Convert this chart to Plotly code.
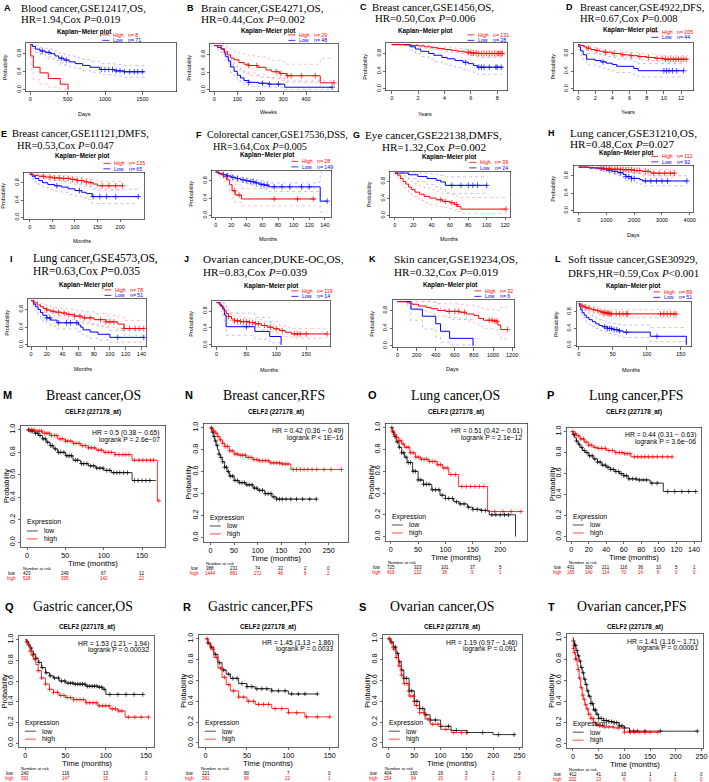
import plotly.graph_objects as go

W, H = 709, 782
SERIF = "Liberation Serif"
SANS = "Liberation Sans"
RED, BLUE, BLACK = "#FF0000", "#0000FF", "#000000"
PINK, LBLUE = "#FFA8A8", "#A8A8FF"

# ======================= DATA =======================
TOP_KEYS = list("ABCDEFGHIJKL")
TOP_TITLE_1 = ["Blood cancer,GSE12417,OS,", "Brain cancer,GSE4271,OS,", "Breast cancer,GSE1456,OS,",
               "Breast cancer,GSE4922,DFS,", "Breast cancer,GSE11121,DMFS,", "Colorectal cancer,GSE17536,DSS,",
               "Eye cancer,GSE22138,DMFS,", "Lung cancer,GSE31210,OS,", "Lung cancer,GSE4573,OS,",
               "Ovarian cancer,DUKE-OC,OS,", "Skin cancer,GSE19234,OS,", "Soft tissue cancer,GSE30929,"]
TOP_TITLE_2 = ["HR=1.94,Cox <i>P</i>=0.019", "HR=0.44,Cox <i>P</i>=0.002", "HR=0.50,Cox <i>P</i>=0.006",
               "HR=0.67,Cox <i>P</i>=0.008", "HR=0.53,Cox <i>P</i>=0.047", "HR=3.64,Cox <i>P</i>=0.005",
               "HR=1.32,Cox <i>P</i>=0.002", "HR=0.48,Cox <i>P</i>=0.027", "HR=0.63,Cox <i>P</i>=0.035",
               "HR=0.83,Cox <i>P</i>=0.039", "HR=0.32,Cox <i>P</i>=0.019", "DRFS,HR=0.59,Cox <i>P</i>&lt;0.001"]
TOP_UNITS = ["Days", "Weeks", "Years", "Years", "Months", "Months", "Months", "Days", "Months", "Months", "Days", "Months"]
N_HIGH = [8, 29, 131, 205, 135, 28, 39, 112, 78, 119, 32, 89]
N_LOW = [71, 48, 28, 44, 65, 149, 24, 92, 51, 14, 6, 51]
TOP_XTICKS = [[0, 500, 1000, 1500], [0, 100, 200, 300, 400], [0, 2, 4, 6, 8], [0, 2, 4, 6, 8, 10, 12],
              [0, 50, 100, 150, 200], [0, 20, 40, 60, 80, 100, 120, 140], [0, 20, 40, 60, 80, 100, 120],
              [0, 1000, 2000, 3000, 4000], [0, 20, 40, 60, 80, 100, 120, 140], [0, 50, 100, 150],
              [0, 200, 400, 600, 800, 1000, 1200], [0, 50, 100, 150]]
TOP_YTICKS = [0, 0.4, 0.8]

# --- A ---
A_hi_t = [0, 5, 40, 130, 240, 400, 505]
A_hi_s = [1, .75, .5, .375, .25, .125, 0]
A_hi_lo = [1, .45, .22, .13, .06, .01, 0]
A_hi_up = [1, 1, .92, .8, .68, .55, .55]
A_hi_c = []
A_lo_t = [0, 30, 70, 130, 200, 270, 330, 380, 450, 520, 600, 700, 800, 930, 1130, 1250, 1530]
A_lo_s = [1, .96, .9, .86, .83, .8, .75, .7, .66, .62, .58, .54, .5, .45, .42, .4, .4]
A_lo_lo = [1, .91, .83, .78, .74, .7, .65, .6, .55, .51, .47, .43, .39, .34, .31, .28, .28]
A_lo_up = [1, 1, .97, .94, .92, .9, .86, .82, .78, .75, .71, .67, .63, .58, .56, .54, .54]
A_lo_c = [160, 250, 420, 480, 950, 1000, 1050, 1100, 1150, 1200, 1260, 1330, 1390, 1440, 1500]
# --- B ---
B_hi_t = [0, 30, 43, 57, 71, 86, 107, 129, 150, 190, 225, 250, 285, 315, 462, 522]
B_hi_s = [1, .93, .86, .79, .72, .68, .62, .58, .55, .51, .45, .41, .37, .32, .16, .16]
B_hi_lo = [1, .84, .74, .65, .57, .52, .46, .41, .38, .34, .28, .25, .21, .17, .05, .05]
B_hi_up = [1, 1, .99, .96, .91, .87, .83, .8, .77, .74, .7, .67, .63, .58, .72, .72]
B_hi_c = [150, 185, 270, 290, 320, 335, 380, 440, 522]
B_lo_t = [0, 14, 29, 43, 50, 61, 71, 86, 100, 114, 129, 150, 193, 236, 307, 514]
B_lo_s = [1, .96, .92, .83, .75, .65, .52, .42, .33, .27, .21, .17, .15, .13, .06, .06]
B_lo_lo = [1, .9, .84, .73, .63, .52, .39, .29, .21, .16, .11, .08, .07, .05, .01, .01]
B_lo_up = [1, 1, 1, .94, .88, .8, .68, .59, .5, .43, .37, .32, .29, .27, .2, .2]
B_lo_c = [150, 210, 240, 280, 514]
# --- C ---
C_hi_t = [0, 1, 1.5, 2, 2.5, 3, 3.5, 4, 4.5, 5, 5.5, 6, 6.5, 8.4]
C_hi_s = [1, .99, .98, .97, .95, .93, .91, .89, .87, .85, .83, .81, .8, .8]
C_hi_lo = [1, .97, .95, .94, .91, .89, .86, .84, .82, .8, .77, .75, .74, .74]
C_hi_up = [1, 1, 1, 1, .99, .97, .95, .94, .92, .91, .89, .87, .86, .86]
C_hi_c = [5.8, 6.0, 6.2, 6.4, 6.6, 6.8, 7.0, 7.2, 7.4, 7.6, 7.8, 8.0, 8.1, 8.2, 8.3, 8.4]
C_lo_t = [0, 1.4, 1.8, 2.2, 2.8, 3.2, 3.8, 4.2, 4.8, 5.4, 5.8, 6.2, 6.5, 8.4]
C_lo_s = [1, .95, .9, .85, .8, .76, .71, .68, .64, .6, .57, .53, .49, .49]
C_lo_lo = [1, .87, .8, .73, .67, .62, .56, .53, .48, .44, .41, .37, .33, .33]
C_lo_up = [1, 1, 1, .98, .95, .92, .89, .86, .83, .8, .77, .74, .71, .71]
C_lo_c = [5.6, 6.6, 6.8, 7.0, 7.4, 7.9, 8.0, 8.3]
# --- D ---
D_hi_t = [0, 0.3, 0.7, 1, 1.5, 2, 2.5, 3, 4, 5, 6, 7, 8, 9, 10, 12.8]
D_hi_s = [1, .98, .95, .92, .89, .87, .85, .83, .8, .77, .75, .73, .71, .69, .67, .67]
D_hi_lo = [1, .96, .92, .88, .85, .82, .8, .78, .74, .71, .69, .66, .64, .62, .59, .59]
D_hi_up = [1, 1, .98, .96, .94, .92, .9, .88, .86, .83, .82, .8, .78, .77, .75, .75]
D_hi_c = [1.2, 2.2, 3.2, 4.2, 5.2, 6.2, 7.2, 8.2, 9.2, 9.8, 10.2, 10.5, 10.8, 11.1, 11.4, 11.7, 12.0, 12.3, 12.6]
D_lo_t = [0, 0.1, 0.3, 0.6, 1, 2, 2.7, 3.3, 4, 4.5, 6.5, 7, 12.3]
D_lo_s = [1, .95, .86, .77, .67, .64, .61, .58, .55, .51, .46, .41, .41]
D_lo_lo = [1, .88, .76, .65, .54, .5, .47, .44, .41, .37, .32, .27, .27]
D_lo_up = [1, 1, .96, .89, .8, .78, .76, .73, .71, .67, .62, .57, .57]
D_lo_c = [2.9, 10.0, 10.3, 10.6, 11.0, 11.5, 12.3]
# --- E ---
E_hi_t = [0, 8, 20, 35, 50, 70, 90, 105, 120, 130, 140, 150, 205]
E_hi_s = [1, .97, .95, .93, .91, .9, .88, .85, .82, .8, .77, .73, .73]
E_hi_lo = [1, .94, .91, .88, .86, .84, .82, .78, .75, .72, .68, .63, .63]
E_hi_up = [1, 1, .99, .98, .97, .96, .95, .93, .9, .88, .86, .83, .83]
E_hi_c = [30, 45, 55, 65, 75, 85, 95, 105, 115, 125, 135, 160, 175, 190, 205]
E_lo_t = [0, 5, 12, 20, 28, 40, 55, 70, 85, 100, 115, 125, 138, 240]
E_lo_s = [1, .95, .9, .85, .8, .76, .73, .7, .66, .62, .58, .55, .48, .48]
E_lo_lo = [1, .89, .82, .76, .7, .65, .61, .58, .53, .49, .44, .41, .32, .32]
E_lo_up = [1, 1, .97, .94, .9, .87, .85, .82, .79, .76, .72, .7, .65, .65]
E_lo_c = [60, 110, 140, 155, 170, 190, 240]
# --- F ---
F_hi_t = [0, 5, 10, 14, 18, 21, 25, 33, 128]
F_hi_s = [1, .96, .89, .82, .71, .57, .47, .38, .38]
F_hi_lo = [1, .89, .78, .69, .55, .4, .3, .22, .22]
F_hi_up = [1, 1, 1, .96, .89, .78, .7, .62, .62]
F_hi_c = [24, 30, 75, 105, 125]
F_lo_t = [0, 3, 8, 14, 20, 26, 32, 38, 44, 50, 56, 62, 68, 131, 134, 143]
F_lo_s = [1, .97, .94, .91, .88, .85, .82, .8, .78, .75, .72, .7, .66, .66, .33, .33]
F_lo_lo = [1, .94, .9, .86, .83, .79, .76, .73, .7, .67, .63, .6, .55, .55, .08, .08]
F_lo_up = [1, 1, .98, .96, .93, .91, .88, .86, .84, .82, .8, .78, .75, .77, 1, 1]
F_lo_c = [10, 15, 22, 28, 35, 40, 45, 48, 52, 58, 62, 66, 75, 85, 95, 110, 120, 143]
# --- G ---
G_hi_t = [0, 3, 6, 9, 12, 15, 18, 22, 27, 32, 38, 45, 52, 60, 65, 68, 72, 121]
G_hi_s = [1, .95, .87, .8, .74, .67, .61, .55, .5, .45, .41, .37, .33, .3, .26, .21, .15, .15]
G_hi_lo = [1, .88, .77, .68, .6, .53, .46, .4, .35, .3, .26, .22, .19, .16, .13, .09, .05, .05]
G_hi_up = [1, 1, .98, .94, .89, .84, .79, .74, .69, .65, .61, .57, .53, .5, .47, .44, .42, .42]
G_hi_c = [50, 55, 62, 67, 121]
G_lo_t = [0, 15, 25, 35, 45, 50, 55, 101]
G_lo_s = [1, .96, .92, .87, .83, .79, .71, .71]
G_lo_lo = [1, .87, .8, .73, .67, .62, .52, .52]
G_lo_up = [1, 1, 1, .98, .96, .94, .91, .91]
G_lo_c = [62, 72, 80, 85, 90, 100]
# --- H ---
H_hi_t = [0, 300, 600, 900, 1200, 1600, 2000, 2300, 2600, 3450]
H_hi_s = [1, .99, .98, .96, .95, .94, .92, .9, .86, .86]
H_hi_lo = [1, .97, .95, .92, .9, .88, .86, .83, .77, .77]
H_hi_up = [1, 1, 1, 1, 1, .99, .98, .97, .94, .94]
H_hi_c = [800, 1000, 1100, 1200, 1300, 1400, 1500, 1600, 1700, 1800, 1900, 2000, 2100, 2200, 2400, 2500,
          2700, 2900, 3100, 3300, 3450]
H_lo_t = [0, 400, 700, 1000, 1200, 1400, 1600, 1700, 1900, 2200, 2300, 3900]
H_lo_s = [1, .98, .96, .93, .9, .87, .83, .78, .74, .71, .68, .68]
H_lo_lo = [1, .95, .92, .88, .84, .8, .75, .69, .64, .61, .57, .57]
H_lo_up = [1, 1, 1, .99, .97, .95, .92, .88, .85, .83, .8, .8]
H_lo_c = [900, 1100, 1300, 1500, 1700, 1800, 1900, 2000, 2400, 2600, 2800, 3000, 3200, 3900]
# --- I ---
I_hi_t = [0, 4, 8, 12, 16, 20, 25, 30, 38, 45, 55, 65, 80, 95, 110, 118, 143]
I_hi_s = [1, .95, .9, .86, .82, .79, .76, .74, .72, .69, .65, .61, .57, .52, .47, .37, .37]
I_hi_lo = [1, .9, .83, .78, .73, .69, .66, .63, .61, .57, .53, .48, .44, .39, .33, .22, .22]
I_hi_up = [1, 1, .97, .94, .91, .89, .87, .85, .83, .81, .78, .75, .71, .67, .63, .55, .55]
I_hi_c = [20, 28, 35, 42, 48, 55, 62, 68, 75, 88, 95, 100, 105, 118, 125, 132, 137, 143]
I_lo_t = [0, 3, 6, 9, 12, 15, 20, 25, 33, 60, 63, 66, 75, 85, 100, 143]
I_lo_s = [1, .92, .86, .8, .73, .67, .61, .56, .5, .45, .4, .34, .29, .24, .17, .17]
I_lo_lo = [1, .85, .76, .69, .61, .54, .47, .42, .36, .3, .25, .2, .15, .11, .06, .06]
I_lo_up = [1, .99, .96, .92, .86, .81, .76, .72, .66, .62, .57, .51, .46, .41, .33, .33]
I_lo_c = [20, 24, 35, 45, 50, 58, 110, 143]
# --- J ---
J_hi_t = [0, 4, 8, 12, 16, 20, 25, 30, 40, 55, 65, 75, 85, 95, 105, 115, 125, 185]
J_hi_s = [1, .96, .9, .82, .74, .67, .61, .57, .55, .53, .5, .46, .42, .38, .34, .3, .26, .26]
J_hi_lo = [1, .91, .84, .75, .66, .58, .52, .48, .46, .44, .41, .36, .32, .28, .24, .2, .16, .16]
J_hi_up = [1, 1, .97, .9, .83, .76, .71, .67, .65, .63, .6, .56, .53, .49, .46, .42, .39, .39]
J_hi_c = [20, 30, 35, 40, 45, 50, 55, 60, 65, 70, 80, 90, 100, 110, 130, 135, 140, 150, 185]
J_lo_t = [0, 6, 10, 13, 16, 64, 89, 108]
J_lo_s = [1, .93, .86, .71, .43, .32, .2, 0]
J_lo_lo = [1, .8, .69, .51, .23, .14, .05, 0]
J_lo_up = [1, 1, 1, .95, .75, .65, .55, .55]
J_lo_c = [50]
# --- K ---
K_hi_t = [0, 100, 150, 220, 300, 350, 420, 500, 650, 720, 800, 850, 900, 1000, 1050, 1080, 1150]
K_hi_s = [1, .97, .94, .9, .87, .84, .8, .78, .76, .72, .69, .62, .58, .56, .47, .37, .37]
K_hi_lo = [1, .91, .86, .8, .76, .72, .67, .64, .61, .56, .52, .44, .39, .36, .26, .15, .15]
K_hi_up = [1, 1, 1, 1, 1, .98, .96, .95, .94, .92, .9, .86, .83, .82, .8, .87, .87]
K_hi_c = [540, 600, 640, 700, 960, 990, 1020, 1040, 1150]
K_lo_t = [0, 140, 260, 400, 450, 545, 790]
K_lo_s = [1, .83, .67, .5, .33, .17, 0]
K_lo_lo = [1, .58, .38, .2, .08, .02, 0]
K_lo_up = [1, 1, 1, .95, .82, .6, .6]
K_lo_c = []
# --- L ---
L_hi_t = [0, 2, 5, 8, 12, 16, 20, 25, 30, 35, 40, 45, 143]
L_hi_s = [1, .97, .94, .91, .89, .87, .85, .83, .8, .78, .77, .75, .75]
L_hi_lo = [1, .93, .88, .85, .82, .8, .77, .75, .72, .69, .68, .66, .66]
L_hi_up = [1, 1, .99, .97, .96, .94, .93, .91, .89, .87, .86, .85, .85]
L_hi_c = [5, 10, 15, 22, 28, 33, 36, 38, 40, 42, 44, 46, 48, 55, 60, 65, 70, 72, 120, 125, 130, 135, 140, 143]
L_lo_t = [0, 1, 3, 5, 8, 11, 15, 20, 25, 30, 35, 42, 50, 58, 65, 105, 158]
L_lo_s = [1, .93, .85, .78, .72, .66, .61, .56, .51, .47, .44, .4, .37, .34, .31, .21, 0]
L_lo_lo = [1, .86, .76, .68, .62, .55, .5, .45, .4, .35, .32, .28, .25, .22, .18, .08, 0]
L_lo_up = [1, 1, .95, .9, .84, .79, .74, .69, .65, .61, .58, .54, .52, .5, .48, .42, .42]
L_lo_c = [38, 42, 45, 48, 52, 56, 60, 70, 115]

# ---------------- bottom panels ----------------
BOT_KEYS = list("MNOPQRST")
BOT_TITLES = ["Breast cancer,OS", "Breast cancer,RFS", "Lung cancer,OS", "Lung cancer,PFS",
              "Gastric cancer,OS", "Gastric cancer,PFS", "Ovarian cancer,OS", "Ovarian cancer,PFS"]
BOT_HR = ["HR = 0.5 (0.38 − 0.65)", "HR = 0.42 (0.36 − 0.49)", "HR = 0.51 (0.42 − 0.61)", "HR = 0.44 (0.31 − 0.63)",
          "HR = 1.53 (1.21 − 1.94)", "HR = 1.45 (1.13 − 1.86)", "HR = 1.19 (0.97 − 1.46)", "HR = 1.41 (1.16 − 1.71)"]
BOT_P = ["logrank P = 2.6e−07", "logrank P &lt; 1E−16", "logrank P = 2.1e−12", "logrank P = 3.6e−06",
         "logrank P = 0.00032", "logrank P = 0.0033", "logrank P = 0.091", "logrank P = 0.00061"]
BOT_XTICKS = [[0, 50, 100, 150], [0, 50, 100, 150, 200, 250], [0, 50, 100, 150, 200],
              [0, 20, 40, 60, 80, 100, 120, 140], [0, 50, 100, 150], [0, 50, 100, 150],
              [0, 50, 100, 150, 200, 250], [0, 50, 100, 150, 200, 250]]
BOT_YTICKS = [0, 0.2, 0.4, 0.6, 0.8, 1.0]
PROBE = "CELF2 (227178_at)"

NAR_LOW = [[423, 249, 67, 12], [388, 231, 74, 22, 2, 0], [725, 323, 101, 37, 5],
           [431, 300, 211, 116, 36, 10, 5, 1], [240, 116, 13, 0], [221, 80, 7, 0],
           [404, 160, 29, 3, 2, 0], [412, 41, 10, 1, 1, 0]]
NAR_HIGH = [[528, 395, 142, 22], [1444, 881, 272, 46, 8, 2], [419, 222, 38, 9, 1],
            [165, 140, 114, 70, 24, 8, 0, 0], [391, 147, 15, 1], [381, 96, 22, 1],
            [254, 94, 15, 0, 1, 0], [202, 13, 6, 1, 0, 0]]

M_lo_t = [0, 5, 10, 15, 20, 25, 30, 35, 40, 50, 60, 70, 80, 90, 100, 110, 137, 168]
M_lo_s = [1, .99, .97, .95, .92, .89, .86, .83, .8, .77, .73, .7, .68, .66, .64, .62, .55, .55]
M_lo_c = [2, 5, 7, 11, 14, 17, 21, 24, 27, 31, 33, 37, 41, 44, 48, 52, 55, 58, 63, 66, 71, 74, 78, 83, 87, 91,
          95, 99, 104, 108, 113, 117, 121, 126, 131, 140, 145, 150, 155, 160]
M_hi_t = [0, 10, 20, 30, 40, 50, 60, 70, 80, 90, 100, 115, 137, 170, 172]
M_hi_s = [1, .99, .97, .95, .92, .9, .88, .86, .84, .82, .8, .78, .73, .37, .37]
M_hi_c = [3, 6, 9, 13, 16, 19, 23, 26, 29, 32, 36, 39, 43, 46, 50, 53, 57, 61, 64, 68, 72, 76, 80, 84, 88, 93,
          97, 102, 106, 110, 115, 120, 125, 129, 133, 140, 146, 151, 156, 161, 165, 172]

N_lo_t = [0, 3, 6, 9, 12, 15, 18, 21, 25, 30, 35, 40, 50, 60, 75, 90, 100, 115, 130, 140, 224]
N_lo_s = [1, .96, .92, .88, .84, .8, .76, .73, .69, .64, .6, .56, .52, .5, .48, .45, .43, .4, .37, .35, .35]
N_lo_c = [2, 5, 8, 11, 14, 18, 22, 26, 30, 34, 38, 42, 47, 52, 57, 62, 67, 72, 77, 82, 88, 93, 98, 104, 110,
          116, 122, 128, 134, 140, 146, 152, 160, 170, 182, 195, 210, 224]
N_hi_t = [0, 3, 6, 10, 15, 20, 25, 30, 40, 50, 60, 75, 90, 100, 125, 150, 170, 277]
N_hi_s = [1, .99, .97, .95, .92, .89, .86, .83, .79, .76, .75, .73, .71, .7, .68, .67, .62, .62]
N_hi_c = [3, 7, 12, 16, 21, 26, 31, 36, 41, 46, 52, 57, 63, 68, 74, 80, 86, 92, 98, 104, 110, 116, 122, 128,
          134, 140, 146, 152, 158, 164, 175, 182, 190, 198, 206, 215, 225, 240, 255, 277]

O_lo_t = [0, 3, 6, 10, 15, 20, 25, 30, 40, 50, 60, 75, 90, 100, 115, 125, 140, 150, 165, 180, 228]
O_lo_s = [1, .96, .92, .87, .82, .77, .73, .68, .6, .52, .48, .43, .38, .35, .32, .3, .27, .25, .24, .2, 0]
O_lo_c = [2, 5, 8, 12, 16, 20, 24, 28, 32, 36, 41, 45, 50, 55, 60, 65, 70, 76, 82, 88, 94, 100, 106, 113,
          120, 127, 134, 142, 150, 158, 166, 173, 185, 192, 200, 208, 215]
O_hi_t = [0, 3, 6, 10, 15, 20, 25, 35, 45, 55, 70, 85, 95, 106, 124, 177, 238]
O_hi_s = [1, .97, .94, .91, .88, .85, .82, .77, .73, .71, .69, .66, .63, .57, .46, .23, .23]
O_hi_c = [3, 7, 11, 15, 19, 23, 28, 32, 36, 41, 46, 51, 56, 61, 66, 71, 76, 81, 86, 91, 97, 103, 110, 118,
          130, 138, 146, 154, 162, 170, 190, 205, 220, 238]

P_lo_t = [0, 2, 4, 6, 8, 10, 13, 16, 20, 25, 30, 35, 40, 45, 50, 55, 60, 65, 75, 90, 105, 142]
P_lo_s = [1, .97, .94, .91, .88, .85, .82, .8, .77, .74, .71, .68, .66, .64, .62, .6, .58, .55, .54, .51, .43, .43]
P_lo_c = [3, 6, 9, 12, 15, 18, 21, 24, 27, 30, 33, 36, 39, 42, 45, 48, 51, 54, 57, 60, 63, 66, 70, 74, 78,
          82, 86, 92, 98, 110, 118, 126, 134, 142]
P_hi_t = [0, 3, 6, 10, 15, 20, 25, 30, 40, 50, 60, 68, 115]
P_hi_s = [1, .98, .96, .93, .9, .87, .85, .84, .82, .8, .79, .76, .76]
P_hi_c = [2, 5, 8, 11, 14, 17, 20, 23, 27, 31, 35, 39, 43, 47, 51, 55, 58, 61, 64, 67, 72, 76, 80, 84, 88,
          93, 98, 104, 110, 115]

Q_lo_t = [0, 2, 4, 6, 8, 10, 13, 16, 20, 25, 30, 35, 42, 50, 60, 75, 90, 96, 100, 146]
Q_lo_s = [1, .98, .95, .92, .89, .86, .82, .78, .73, .68, .65, .63, .6, .58, .57, .55, .54, .52, .47, .47]
Q_lo_c = [2, 4, 7, 10, 13, 17, 21, 26, 31, 36, 41, 45, 49, 53, 56, 59, 62, 65, 68, 71, 74, 77, 80, 83, 86,
          89, 92, 95, 98, 105, 115, 125, 135, 146]
Q_hi_t = [0, 2, 4, 6, 8, 10, 13, 16, 20, 25, 30, 35, 42, 50, 60, 75, 90, 105, 115, 124, 153]
Q_hi_s = [1, .97, .93, .89, .85, .81, .76, .7, .63, .57, .52, .49, .46, .44, .42, .39, .36, .33, .31, .25, .25]
Q_hi_c = [3, 6, 9, 12, 16, 20, 25, 30, 35, 40, 44, 48, 52, 56, 60, 64, 68, 72, 76, 80, 84, 88, 92, 96, 100,
          104, 108, 112, 116, 120, 128, 136, 144, 153]

R_lo_t = [0, 3, 6, 10, 15, 20, 25, 30, 40, 50, 60, 80, 100, 135]
R_lo_s = [1, .96, .92, .85, .77, .7, .66, .62, .57, .54, .52, .5, .47, .47]
R_lo_c = [3, 7, 12, 17, 22, 28, 33, 38, 44, 50, 56, 62, 68, 74, 80, 88, 96, 104, 112, 120, 135]
R_hi_t = [0, 3, 6, 10, 15, 20, 25, 30, 40, 50, 60, 80, 100, 120, 150]
R_hi_s = [1, .95, .9, .82, .72, .63, .56, .5, .44, .4, .37, .33, .29, .25, .25]
R_hi_c = [2, 5, 9, 13, 18, 23, 28, 34, 40, 46, 52, 58, 64, 70, 76, 84, 92, 100, 110, 122, 135, 150]

S_lo_t = [0, 5, 10, 15, 20, 25, 30, 40, 50, 60, 70, 80, 100, 120, 150, 200, 240]
S_lo_s = [1, .97, .92, .86, .78, .7, .62, .5, .4, .33, .27, .22, .16, .12, .1, .08, .08]
S_lo_c = [2, 6, 10, 14, 18, 22, 26, 30, 35, 40, 45, 50, 55, 60, 66, 72, 80, 90, 100, 115, 130, 150, 180, 210, 240]
S_hi_t = [0, 5, 10, 15, 20, 25, 30, 40, 50, 60, 70, 80, 100, 120, 150]
S_hi_s = [1, .96, .9, .82, .74, .65, .57, .45, .36, .29, .23, .18, .13, .1, .08]
S_hi_c = [3, 7, 11, 16, 21, 26, 31, 36, 42, 48, 54, 60, 68, 76, 85, 95, 110, 125, 140]

T_lo_t = [0, 1, 3, 6, 9, 12, 15, 18, 21, 24, 27, 30, 35, 40, 45, 50, 60, 70, 80, 90, 100, 110, 242]
T_lo_s = [1, .97, .93, .88, .83, .78, .72, .67, .61, .56, .5, .45, .38, .32, .28, .24, .22, .21, .2, .17, .15, .12, .12]
T_lo_c = [1, 3, 5, 8, 11, 14, 17, 20, 23, 26, 29, 32, 35, 38, 41, 44, 47, 50, 55, 60, 65, 70, 75, 80, 85,
          90, 95, 100, 110, 118, 125, 140, 170, 242]
T_hi_t = [0, 1, 2, 5, 8, 10, 12, 15, 18, 20, 23, 26, 30, 35, 40, 45, 50, 60, 80, 100, 165]
T_hi_s = [1, .9, .86, .8, .74, .7, .62, .53, .46, .42, .37, .33, .28, .24, .2, .18, .17, .16, .15, .11, .11]
T_hi_c = [1, 3, 5, 7, 10, 13, 16, 19, 22, 25, 28, 31, 35, 39, 43, 47, 52, 57, 62, 70, 78, 88, 100, 112,
          120, 130, 140, 150, 165]

# ======================= LAYOUT POSITIONS (pixels) =======================
# box(l,t,r,b), letter x, line1 x, line2 x, line1 y, line2 y, KM title (x,y), legend (x,y), x title (x,y), x range, title font
POS_TOP = {
    'A': ((26, 41, 177, 90), 8, 20, 20, 6, 17, (85, 30), (103, 33), (85, 112), (-60, 1950), 10.7),
    'B': ((211, 42, 340, 90), 192, 201, 201, 6, 17, (270, 29), (290, 33), (270, 110), (-20, 540), 11.2),
    'C': ((388, 41, 510, 89), 366, 373, 376, 5.5, 16.5, (428, 29), (470, 33), (427, 112), (-0.45, 8.75), 10.8),
    'D': ((577, 41, 697, 89), 573, 582, 582, 5.5, 16.5, (634, 28), (655, 30), (632, 110), (-0.5, 13.4), 10.5),
    'E': ((24, 171, 145, 218), 4, 11, 16, 132.5, 144, (83, 155), (104, 162), (82, 240), (-13, 253), 10.4),
    'F': ((213, 169, 333, 216), 200, 207, 213, 133.5, 145, (269, 154), (293, 160), (270, 238), (-5, 148), 10.1),
    'G': ((392, 170, 513, 216), 359, 366, 383, 134, 145.5, (452, 156), (472, 161), (452, 238), (-5.5, 125.5), 11.2),
    'H': ((577, 164, 697, 211), 555, 572, 572, 132, 143, (630, 152), (655, 155), (637, 234), (-180, 4120), 11.2),
    'I': ((28, 298, 147, 346), 12, 32, 32, 257.5, 271, (87, 284), (105, 289), (83, 368), (-4, 146), 11.5),
    'J': ((213, 300, 332, 346), 188, 203, 203, 257.5, 271, (273, 285), (293, 290), (271, 369), (-8, 190), 11.2),
    'K': ((395, 299, 517, 347), 375, 395, 395, 257.5, 271, (453, 284), (477, 290), (455, 368), (-50, 1220), 11.2),
    'L': ((580, 301, 695, 346), 561, 570, 570, 257.5, 272, (637, 285), (657, 291), (635, 369), (-3, 165), 10.9),
}
# box(l,t,r,b), letter (x,y), title center x, subtitle y, x range
POS_BOT = {
    'M': ((21, 425, 166, 547), (8, 395), 94, 412, (-8, 180)),
    'N': ((205, 423, 350, 542), (190, 395), 276, 412, (-14, 291)),
    'O': ((388, 423, 530, 541), (375, 395), 458, 412, (-9, 249)),
    'P': ((570, 427, 705, 541), (554, 395), 640, 412, (-5, 148)),
    'Q': ((19, 636, 155, 748), (10, 607), 83, 627, (-8, 160)),
    'R': ((200, 635, 340, 748), (188, 607), 262, 627, (-8, 160)),
    'S': ((385, 635, 525, 748), (365, 607), 445, 627, (-10, 255)),
    'T': ((570, 634, 707, 749), (555, 607), 636, 627, (-12, 253)),
}

# ======================= BUILD =======================
fig = go.Figure()
lay = {}
anns = []
shapes = []
G = globals()


def names(k):
    s = '' if k == 1 else str(k)
    return 'x' + s, 'y' + s, 'xaxis' + s, 'yaxis' + s


def A(text, x, y, size, color=BLACK, family=SANS, xanchor='center', angle=0, xref='paper'):
    return dict(text=text, x=(x / W if xref == 'paper' else x), y=1 - y / H, xref=xref, yref='paper',
                showarrow=False, font=dict(size=size, color=color, family=family), xanchor=xanchor,
                yanchor='middle', textangle=angle, borderpad=0)


def seg(x0, x1, y, color, w=0.8):
    return dict(type='line', xref='paper', yref='paper', x0=x0 / W, x1=x1 / W, y0=1 - y / H, y1=1 - y / H,
                line=dict(color=color, width=w))


def surv_at(ts, ss, c):
    v = ss[0]
    for t, s in zip(ts, ss):
        if t <= c:
            v = s
        else:
            break
    return v


def axes(k, box, xr, xt, yt, fs, lw=0.6, standoff=0):
    xn, yn, xk, yk = names(k)
    l, t, r, b = box
    common = dict(showline=True, mirror=True, linecolor=BLACK, linewidth=lw, ticks='outside', ticklen=2.5,
                  tickwidth=lw, tickcolor=BLACK, showgrid=False, zeroline=False,
                  tickfont=dict(size=fs, family=SANS, color=BLACK))
    lay[xk] = dict(domain=[l / W, r / W], range=list(xr), tickvals=xt, ticktext=[str(v) for v in xt],
                   anchor=yn, ticklabelstandoff=standoff, **common)
    lay[yk] = dict(domain=[1 - b / H, 1 - t / H], range=[-0.04, 1.04], tickvals=yt,
                   ticktext=['%.1f' % v for v in yt], tickangle=-90, anchor=xn, **common)
    return xn, yn


def curve(xn, yn, ts, ss, color, w, cens, msize):
    fig.add_trace(go.Scatter(x=ts, y=ss, mode='lines', line=dict(shape='hv', color=color, width=w),
                             xaxis=xn, yaxis=yn, showlegend=False, hoverinfo='skip'))
    if cens:
        fig.add_trace(go.Scatter(x=cens, y=[surv_at(ts, ss, c) for c in cens], mode='markers',
                                 marker=dict(symbol='cross-thin', size=msize, line=dict(color=color, width=0.7)),
                                 xaxis=xn, yaxis=yn, showlegend=False, hoverinfo='skip'))


def ci(xn, yn, ts, vals, color):
    fig.add_trace(go.Scatter(x=ts, y=vals, mode='lines', line=dict(shape='hv', color=color, width=0.7, dash='dot'),
                             xaxis=xn, yaxis=yn, showlegend=False, hoverinfo='skip'))


k = 0
for i, key in enumerate(TOP_KEYS):
    k += 1
    box, lx, t1x, t2x, y1, y2, km, leg, xtp, xr, fs_title = POS_TOP[key]
    l, t, r, b = box
    xn, yn = axes(k, box, xr, TOP_XTICKS[i], TOP_YTICKS, 5.5)
    for grp, col, ccol in (('lo', BLUE, LBLUE), ('hi', RED, PINK)):
        ts = G[f'{key}_{grp}_t']
        ci(xn, yn, ts, G[f'{key}_{grp}_lo'], ccol)
        ci(xn, yn, ts, G[f'{key}_{grp}_up'], ccol)
    for grp, col in (('lo', BLUE), ('hi', RED)):
        curve(xn, yn, G[f'{key}_{grp}_t'], G[f'{key}_{grp}_s'], col, 1.0, G[f'{key}_{grp}_c'], 4)
    anns.append(A('<b>%s</b>' % key, lx, y1, 9))
    anns.append(A(TOP_TITLE_1[i], t1x, y1, fs_title, family=SERIF, xanchor='left'))
    anns.append(A(TOP_TITLE_2[i], t2x, y2, fs_title, family=SERIF, xanchor='left'))
    anns.append(A('<b>Kaplan−Meier plot</b>', km[0], km[1], 6.3))
    lgx, lgy = leg
    shapes.append(seg(lgx, lgx + 7, lgy, RED))
    shapes.append(seg(lgx, lgx + 7, lgy + 5.5, BLUE))
    anns.append(A('High', lgx + 10, lgy, 5.2, color=RED, xanchor='left'))
    anns.append(A('n= %d' % N_HIGH[i], lgx + 25, lgy, 5.2, color=RED, xanchor='left'))
    anns.append(A('Low', lgx + 10, lgy + 5.5, 5.2, color=BLUE, xanchor='left'))
    anns.append(A('n= %d' % N_LOW[i], lgx + 25, lgy + 5.5, 5.2, color=BLUE, xanchor='left'))
    anns.append(A(TOP_UNITS[i], xtp[0], xtp[1], 5.5))
    anns.append(A('Probability', l - 21, (t + b) / 2, 5.5, angle=-90))

for i, key in enumerate(BOT_KEYS):
    k += 1
    box, (lx, ly), tcx, suby, xr = POS_BOT[key]
    l, t, r, b = box
    xn, yn = axes(k, box, xr, BOT_XTICKS[i], BOT_YTICKS, 7.2, standoff=-1)
    curve(xn, yn, G[f'{key}_lo_t'], G[f'{key}_lo_s'], BLACK, 0.8, G[f'{key}_lo_c'], 3.2)
    curve(xn, yn, G[f'{key}_hi_t'], G[f'{key}_hi_s'], RED, 0.8, G[f'{key}_hi_c'], 3.2)
    anns.append(A('<b>%s</b>' % key, lx, ly, 11))
    anns.append(A(BOT_TITLES[i], tcx, ly, 13.8, family=SERIF))
    anns.append(A('<b>%s</b>' % PROBE, (l + r) / 2, suby, 6.3))
    anns.append(A(BOT_HR[i], r - 4, t + 8, 6.8, xanchor='right'))
    anns.append(A(BOT_P[i], r - 4, t + 14.5, 6.8, xanchor='right'))
    anns.append(A('Expression', l + 5, b - 24.5, 6.9, xanchor='left'))
    shapes.append(seg(l + 6, l + 17, b - 16, BLACK, 0.7))
    shapes.append(seg(l + 6, l + 17, b - 8, RED, 0.7))
    anns.append(A('low', l + 22, b - 16, 6.9, xanchor='left'))
    anns.append(A('high', l + 22, b - 8, 6.9, xanchor='left'))
    anns.append(A('Time (months)', (l + r) / 2, b + 16.5, 7.8))
    anns.append(A('Probability', l - 15, (t + b) / 2, 7.3, angle=-90))
    anns.append(A('Number at risk', l + 1, b + 21.8, 4.3, xanchor='left'))
    anns.append(A('low', l - 9, b + 26.5, 4.5))
    anns.append(A('high', l - 9, b + 31.5, 4.5, color=RED))
    for tv, nl, nh in zip(BOT_XTICKS[i], NAR_LOW[i], NAR_HIGH[i]):
        anns.append(A(str(nl), tv, b + 26.5, 4.5, xref=xn))
        anns.append(A(str(nh), tv, b + 31.5, 4.5, color=RED, xref=xn))

fig.update_layout(width=W, height=H, margin=dict(l=0, r=0, t=0, b=0), paper_bgcolor='white',
                  plot_bgcolor='white', showlegend=False, annotations=anns, shapes=shapes, **lay)
fig.write_html("out.html", config={'displayModeBar': False, 'staticPlot': True},
               post_script="document.body.style.margin='0px';document.body.style.overflow='hidden';")
